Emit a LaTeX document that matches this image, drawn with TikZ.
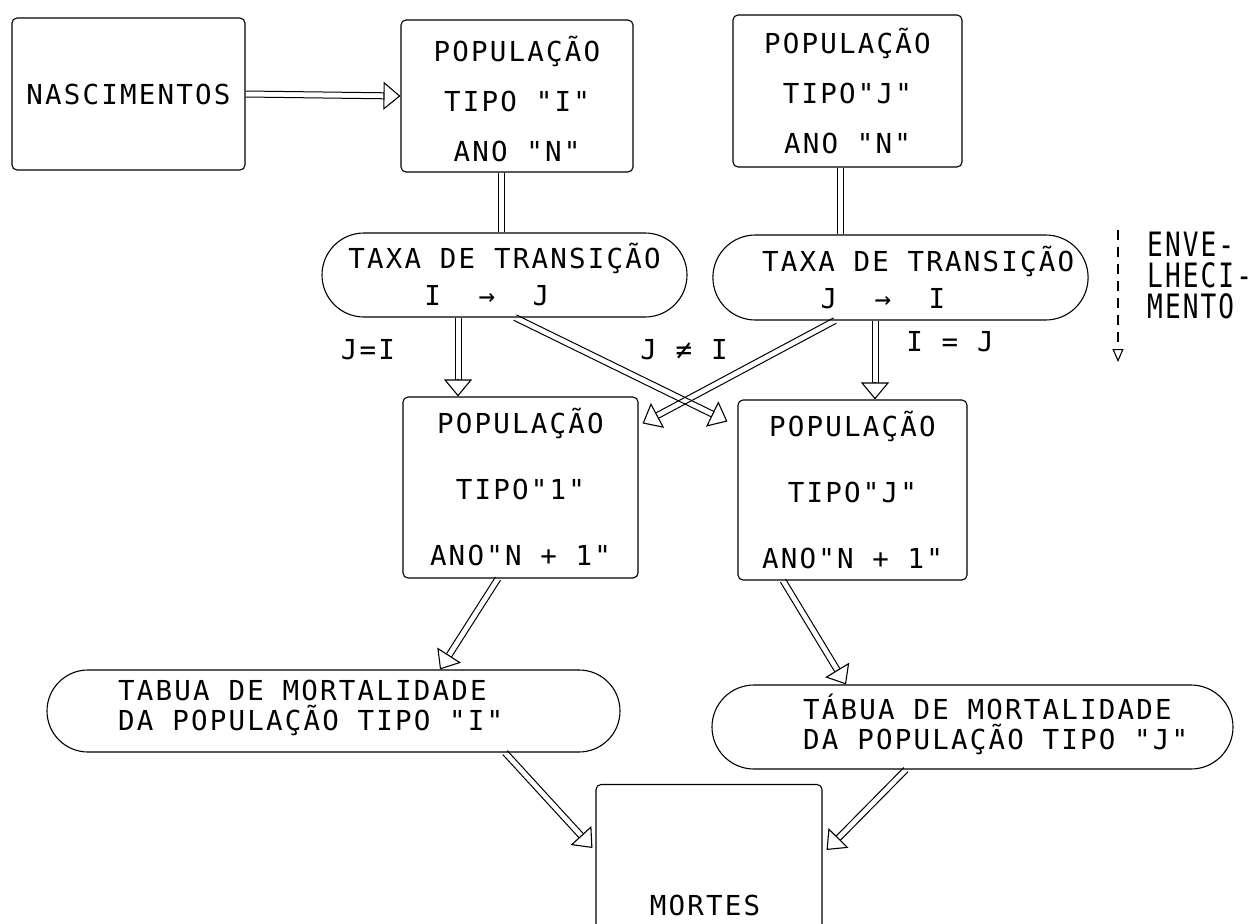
\documentclass[tikz,border=0pt]{standalone}
\usepackage{fontspec}
\usepackage{graphicx}
\usetikzlibrary{shapes.misc,arrows.meta,calc}
\newfontfamily\tw{DejaVu Sans Mono}[LetterSpace=8]
\newcommand\twf[1]{\tw\fontsize{27.5}{#1}\selectfont}
\tikzset{
  box/.style={draw, rounded corners=5pt, line width=1.1pt, inner sep=0pt, align=center},
  stad/.style={draw, rounded rectangle, line width=1.1pt, inner sep=0pt, align=center},
  txt/.style={inner sep=0pt, align=center},
  rail/.style={line width=1pt},
  hd/.style={line width=1.1pt, -{Triangle[fill=white,length=17pt,width=28pt]}},
}
% two parallel rails from #1 to #2
\newcommand\dblline[2]{%
  \coordinate (tA) at #1; \coordinate (tB) at #2;
  \draw[rail] ($(tA)!3pt!90:(tB)$) -- ($(tB)!3pt!-90:(tA)$);
  \draw[rail] ($(tA)!3pt!-90:(tB)$) -- ($(tB)!3pt!90:(tA)$);
}
% two parallel rails from #1 towards #2, ending in an open triangular head
\newcommand\dblarrow[2]{%
  \coordinate (tA) at #1; \coordinate (tT) at #2;
  \coordinate (tB) at ($(tT)!16pt!(tA)$);
  \draw[rail] ($(tA)!3pt!90:(tB)$) -- ($(tB)!3pt!-90:(tA)$);
  \draw[rail] ($(tA)!3pt!-90:(tB)$) -- ($(tB)!3pt!90:(tA)$);
  \draw[hd] ($(tT)!17pt!(tA)$) -- (tT);
}
\begin{document}
\begin{tikzpicture}[x=1pt,y=-1pt]
\useasboundingbox (0,0) rectangle (1251,924);
% boxes
\node[box, minimum width=233pt, minimum height=152pt, font={\twf{50}}] (nasc) at (128.5,94) {NASCIMENTOS};
\node[box, minimum width=232pt, minimum height=152pt, font={\twf{50}}] (popIn) at (517,96) {\rule{0pt}{32pt}POPULAÇÃO\\TIPO "I"\\ANO "N"};
\node[box, minimum width=229pt, minimum height=152pt, font={\twf{50}}] (popJn) at (847.5,91) {POPULAÇÃO\\TIPO"J"\\ANO "N"};
\node[stad, minimum width=365pt, minimum height=84pt, font={\twf{37}}] (taxa1) at (504.5,275) {TAXA DE TRANSIÇÃO\\I~~→~~J\phantom{xx}};
\node[stad, minimum width=375pt, minimum height=85pt, font={\twf{37}}] (taxa2) at (900.5,277.5) {\phantom{xx}TAXA DE TRANSIÇÃO\\J~~→~~I\phantom{xx}};
\node[box, minimum width=235pt, minimum height=181pt, font={\twf{66}}] (popIn1) at (520.5,487.5) {POPULAÇÃO\\TIPO"1"\\ANO"N + 1"};
\node[box, minimum width=229pt, minimum height=180pt, font={\twf{66}}] (popJn1) at (852.5,490) {POPULAÇÃO\\TIPO"J"\\ANO"N + 1"};
\node[stad, minimum width=573pt, minimum height=82pt] (tabI) at (333.5,711) {};
\node[txt, anchor=west, align=left, font={\twf{30}}] (tabIt) at (118,707.5) {TABUA DE MORTALIDADE\\DA POPULAÇÃO TIPO "I"};
\node[stad, minimum width=521pt, minimum height=84pt] (tabJ) at (972.5,727) {};
\node[txt, anchor=west, align=left, font={\twf{30}}] (tabJt) at (803,724) {TÁBUA DE MORTALIDADE\\DA POPULAÇÃO TIPO "J"};
\node[box, minimum width=226pt, minimum height=175pt] (mortes) at (709,872) {};
\node[txt, font={\twf{30}}] (mortesT) at (705,905) {MORTES};
% labels
\node[txt, font={\twf{30}}] (lJI) at (368,350) {J=I};
\node[txt, font={\twf{30}}] (lJnI) at (684,350) {J~≠~I};
\node[txt, font={\twf{30}}] (lIJ) at (950,342) {I~=~J};
\node[txt, anchor=west, align=left, font={\twf{31}}] (env) at (1147,276) {\scalebox{0.95}[1.22]{ENVE-}\\\scalebox{0.95}[1.22]{LHECI-}\\\scalebox{0.95}[1.22]{MENTO}};
% ageing arrow
\coordinate (envTop) at (1118,230);
\coordinate (envBot) at (1118,362);
\draw[line width=1.1pt, dash pattern=on 10pt off 7pt, -{Triangle[open,length=13pt,width=11pt]}] (envTop) -- (envBot);
% connectors
\dblarrow{(nasc.east)}{(popIn.west)}
\dblline{([xshift=-16pt]popIn.south)}{([xshift=-16pt]popIn.south |- taxa1.north)}
\dblline{([xshift=-7.5pt]popJn.south)}{([xshift=-7.5pt]popJn.south |- taxa2.north)}
\dblarrow{([xshift=-46.5pt]taxa1.south)}{([xshift=-46.5pt]taxa1.south |- popIn1.north)}
\dblarrow{([xshift=10.5pt]taxa1.south)}{([xshift=-10pt,yshift=-22pt]popJn1.north west)}
\dblarrow{([xshift=-65.5pt]taxa2.south)}{([xshift=4pt,yshift=-27pt]popIn1.north east)}
\dblarrow{([xshift=-25.5pt]taxa2.south)}{([xshift=-25.5pt]taxa2.south |- popJn1.north)}
\dblarrow{([xshift=-22.5pt]popIn1.south)}{([xshift=106.5pt]tabI.north)}
\dblarrow{([xshift=-69.5pt]popJn1.south)}{([xshift=-126.5pt]tabJ.north)}
\dblarrow{([xshift=171.5pt]tabI.south)}{([xshift=-3pt,yshift=24pt]mortes.west)}
\dblarrow{([xshift=-66.5pt]tabJ.south)}{([xshift=4pt,yshift=22pt]mortes.east)}
\end{tikzpicture}
\end{document}
